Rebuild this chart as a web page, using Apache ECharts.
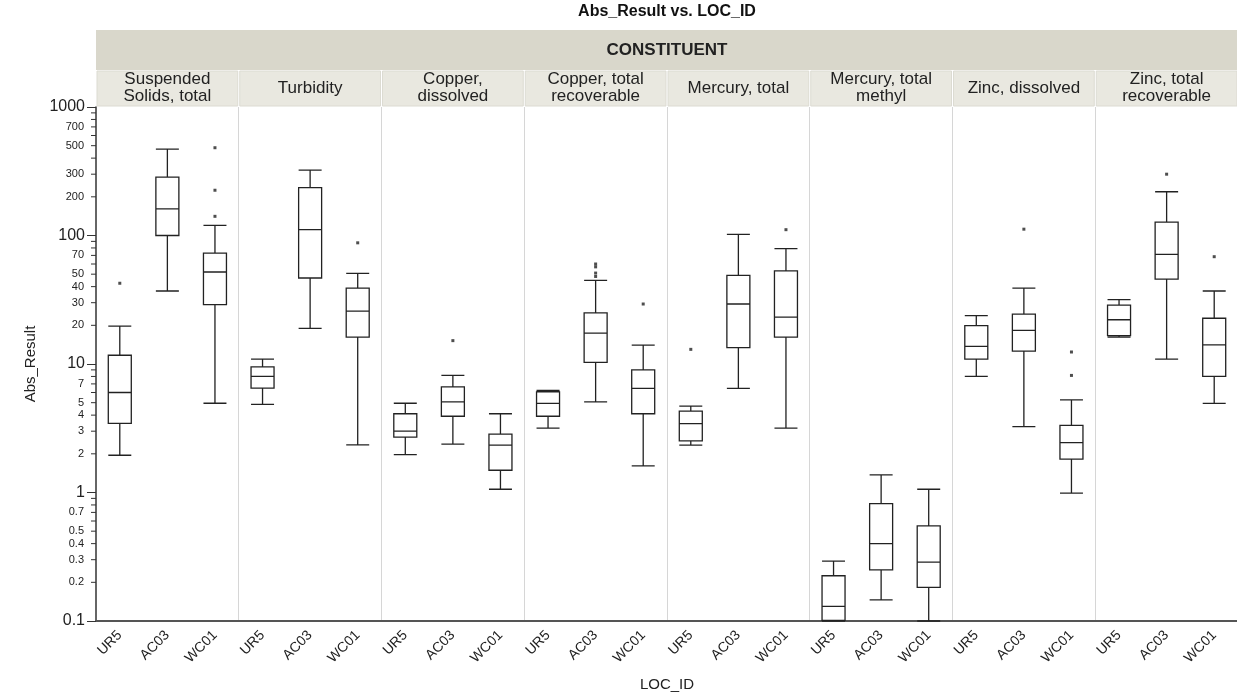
<!DOCTYPE html>
<html><head><meta charset="utf-8">
<script src="https://cdn.jsdelivr.net/npm/echarts@6/dist/echarts.min.js"></script>
<style>html,body{margin:0;padding:0;background:#fff}#c{width:1237px;height:696px}</style>
</head><body><div id="c"></div>
<script>
const locations = ['UR5', 'AC03', 'WC01'];
const constituents = ['Suspended\nSolids, total', 'Turbidity', 'Copper,\ndissolved', 'Copper, total\nrecoverable',
  'Mercury, total', 'Mercury, total\nmethyl', 'Zinc, dissolved', 'Zinc, total\nrecoverable'];
// box stats per location (UR5, AC03, WC01): [min, Q1, median, Q3, max]
const suspendedSolids = [[1.95, 3.45, 6.0, 11.7, 19.7], [37, 100, 161, 285, 470], [4.95, 29, 52, 73, 120]];
const turbidity = [[4.85, 6.5, 8.0, 9.5, 10.9], [18.9, 46.7, 111, 236, 323], [2.35, 16.2, 25.8, 39, 50.7]];
const copperDissolved = [[1.97, 2.7, 3.0, 4.1, 4.95], [2.38, 3.92, 5.07, 6.63, 8.15], [1.06, 1.49, 2.34, 2.85, 4.1]];
const copperTotal = [[3.17, 3.92, 4.94, 6.07, 6.22], [5.07, 10.3, 17.4, 25, 44.7], [1.61, 4.1, 6.46, 9.0, 14]];
const mercuryTotal = [[2.34, 2.52, 3.44, 4.3, 4.7], [6.46, 13.4, 29.3, 49, 102], [3.17, 16.2, 23.2, 53, 79]];
const mercuryMethyl = [[0.1, 0.101, 0.13, 0.225, 0.292], [0.146, 0.25, 0.40, 0.82, 1.37], [0.1, 0.183, 0.287, 0.55, 1.06]];
const zincDissolved = [[8.0, 10.9, 13.7, 19.9, 23.8], [3.25, 12.6, 18.3, 24.4, 39], [0.99, 1.82, 2.44, 3.33, 5.26]];
const zincTotal = [[16.2, 16.6, 22.1, 28.7, 31.7], [10.9, 45.8, 71.4, 127, 219], [4.94, 8.0, 14.1, 22.7, 37]];
// outliers: [location index, value]
const suspendedSolidsOut = [[0, 42.5], [2, 482], [2, 225], [2, 141]];
const turbidityOut = [[2, 87.7]];
const copperDissolvedOut = [[1, 15.2]];
const copperTotalOut = [[1, 60], [1, 57], [1, 51], [1, 48], [2, 29.3]];
const mercuryTotalOut = [[0, 13], [2, 111]];
const mercuryMethylOut = [];
const zincDissolvedOut = [[1, 112], [2, 12.4], [2, 8.15]];
const zincTotalOut = [[1, 300], [2, 68.4]];
// y-axis minor ticks and labels
const minorTickValues = [0.2,0.3,0.4,0.5,0.6,0.7,0.8,0.9,2,3,4,5,6,7,8,9,20,30,40,50,60,70,80,90,200,300,400,500,600,700,800,900];
const minorTickLabels = ['0.2','0.3','0.4','0.5','0.7','2','3','4','5','7','20','30','40','50','70','200','300','500','700'];

const boxSets = [suspendedSolids, turbidity, copperDissolved, copperTotal, mercuryTotal, mercuryMethyl, zincDissolved, zincTotal];
const outSets = [suspendedSolidsOut, turbidityOut, copperDissolvedOut, copperTotalOut, mercuryTotalOut, mercuryMethylOut, zincDissolvedOut, zincTotalOut];

const xCats = [];
const boxData = [];
const outData = [];
boxSets.forEach((set, p) => {
  set.forEach((s, l) => { xCats.push(locations[l]); boxData.push(s); });
  outSets[p].forEach(o => outData.push([p * 3 + o[0], o[1]]));
});

const GL = 96, GR = 1238, GT = 107, GB = 621;
const PW = (GR - GL) / constituents.length;
const font = '"Liberation Sans", Arial, sans-serif';

const graphics = [
  { type: 'text', x: GL + (GR - GL) / 2, y: 12, style: { text: 'Abs_Result vs. LOC_ID', font: 'bold 16px ' + font, fill: '#111', align: 'center', verticalAlign: 'middle' } },
  { type: 'rect', shape: { x: GL, y: 30, width: GR - GL, height: 40 }, style: { fill: '#d9d7cb' } },
  { type: 'text', x: GL + (GR - GL) / 2, y: 50, style: { text: 'CONSTITUENT', font: 'bold 17px ' + font, fill: '#222', align: 'center', verticalAlign: 'middle' } }
];
constituents.forEach((c, i) => {
  graphics.push({ type: 'rect', shape: { x: GL + i * PW + 1, y: 71, width: PW - 2, height: 35 }, style: { fill: '#e9e8e0', stroke: '#dcdbd2', lineWidth: 1 } });
  graphics.push({ type: 'text', x: GL + i * PW + PW / 2, y: 88, style: { text: c, font: '17px ' + font, fill: '#222', align: 'center', verticalAlign: 'middle', lineHeight: 17 } });
});

const chart = echarts.init(document.getElementById('c'));
chart.setOption({
  animation: false,
  backgroundColor: '#fff',
  graphic: graphics,
  grid: { left: GL, right: 1237 - GR, top: GT, bottom: 696 - GB, containLabel: false, outerBoundsMode: 'none' },
  xAxis: {
    type: 'category', data: xCats, boundaryGap: true,
    name: 'LOC_ID', nameLocation: 'middle', nameGap: 56,
    nameTextStyle: { fontFamily: font, fontSize: 15, color: '#222' },
    axisLine: { lineStyle: { color: '#555', width: 2 } },
    axisTick: { show: false },
    axisLabel: { rotate: 45, fontFamily: font, fontSize: 14, color: '#222', margin: 12, interval: 0 },
    splitLine: { show: true, interval: (i) => i % 3 === 0 && i > 0, lineStyle: { color: '#d6d6d6', width: 1 } }
  },
  yAxis: {
    type: 'log', min: 0.1, max: 1000, logBase: 10,
    name: 'Abs_Result', nameLocation: 'middle', nameGap: 58, nameRotate: 90,
    nameTextStyle: { fontFamily: font, fontSize: 15, color: '#222' },
    axisLine: { show: true, lineStyle: { color: '#333', width: 1.5 } },
    axisTick: { show: true, length: 9, lineStyle: { color: '#333' } },
    axisLabel: { fontFamily: font, fontSize: 16, color: '#222', margin: 11, formatter: v => String(+v.toPrecision(6)) },
    splitLine: { show: false }
  },
  series: [
    {
      type: 'boxplot', data: boxData, boxWidth: [23, 23],
      itemStyle: { color: '#fff', borderColor: '#222', borderWidth: 1.3 },
      emphasis: { disabled: true }
    },
    {
      type: 'scatter', data: outData, symbol: 'rect', symbolSize: 3,
      itemStyle: { color: '#222' }, emphasis: { disabled: true }
    },
    {
      type: 'custom', data: minorTickValues.map(v => [0, v]), silent: true, clip: false,
      renderItem: (params, api) => {
        const v = api.value(1);
        const pt = api.coord([0, v]);
        const x0 = params.coordSys.x;
        const children = [{ type: 'line', shape: { x1: x0 - 5, y1: pt[1], x2: x0, y2: pt[1] }, style: { stroke: '#333', lineWidth: 1 } }];
        const lbl = String(+v.toPrecision(6));
        if (minorTickLabels.indexOf(lbl) >= 0) {
          children.push({ type: 'text', style: { text: lbl, x: x0 - 12, y: pt[1], align: 'right', verticalAlign: 'middle', font: '11px ' + font, fill: '#222' } });
        }
        return { type: 'group', children };
      }
    }
  ]
});
</script></body></html>
